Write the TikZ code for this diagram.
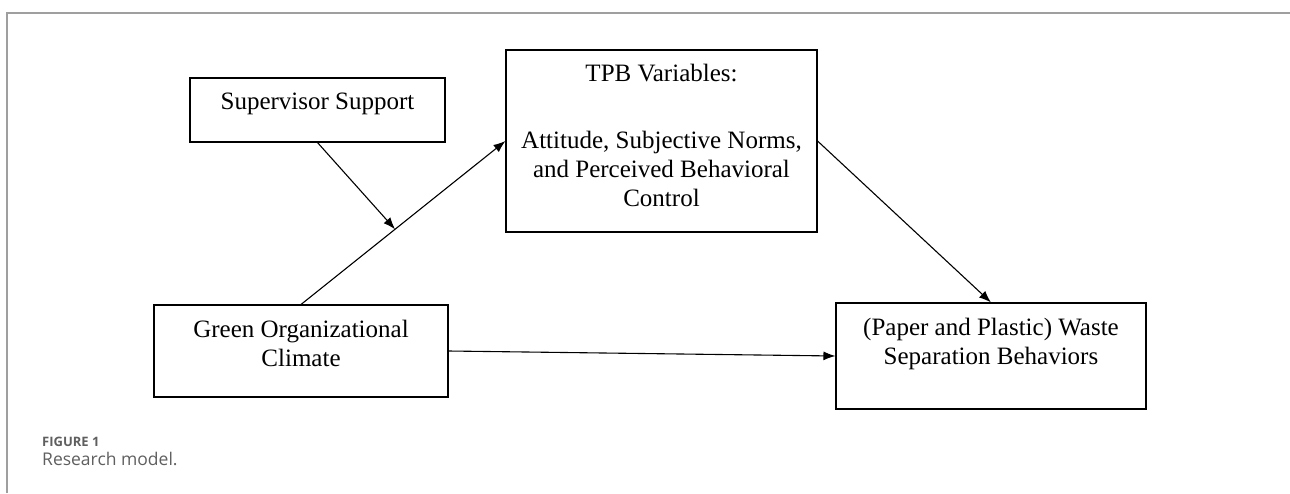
\documentclass[tikz,border=0pt]{standalone}
\usepackage{fontspec}
\setmainfont{Liberation Serif}
\setsansfont{Open Sans}
\usetikzlibrary{arrows.meta}
\usetikzlibrary{calc}
\definecolor{capgray}{RGB}{95,95,95}

\begin{document}
\begin{tikzpicture}[x=1pt,y=-1pt,
  box/.style={draw,line width=1.1pt,inner sep=0pt},
  txt/.style={align=center,inner sep=0pt,anchor=north,font=\fontsize{25}{29}\selectfont},
  arr/.style={-{Latex[length=12pt,width=9pt]},line width=1.1pt},
  figtxt/.style={anchor=base west,inner sep=0pt,text=capgray,font=\sffamily\bfseries\fontsize{13}{15}\selectfont},
  captxt/.style={anchor=base west,inner sep=0pt,text=capgray,font=\sffamily\fontsize{17.5}{20}\selectfont}]
\useasboundingbox (0,0) rectangle (1290,493);
\draw[gray!75,line width=1.5pt] (7,493) -- (7,13) -- (1290,13);

% boxes
\node[box,minimum width=255pt,minimum height=64pt] (sup) at (317.5,110) {};
\node[box,minimum width=311pt,minimum height=182pt] (tpb) at (661.5,141) {};
\node[box,minimum width=294pt,minimum height=92pt] (green) at (301,351) {};
\node[box,minimum width=310pt,minimum height=106pt] (waste) at (991,356) {};

% texts
\node[txt] (supT) at (317.5,93) {Supervisor Support};
\node[txt] (tpbT) at (661.5,64) {TPB Variables:\\[38pt]Attitude, Subjective Norms,\\and Perceived Behavioral\\Control};
\node[txt] (greenT) at (301,320) {Green Organizational\\Climate};
\node[txt] (wasteT) at (991,318) {(Paper and Plastic) Waste\\Separation Behaviors};

% paths
\draw[arr] (green.north) -- (tpb.west) coordinate[pos=0.46] (mod);
\draw[arr] (sup.south) -- (mod);
\draw[arr] (tpb.east) -- (waste.north);
\draw[arr] (green.east) -- (waste.west);

% caption
\node[figtxt] (fig) at (42,446) {FIGURE 1};
\node[captxt] (capT) at (42,465) {Research model.};
\end{tikzpicture}
\end{document}
